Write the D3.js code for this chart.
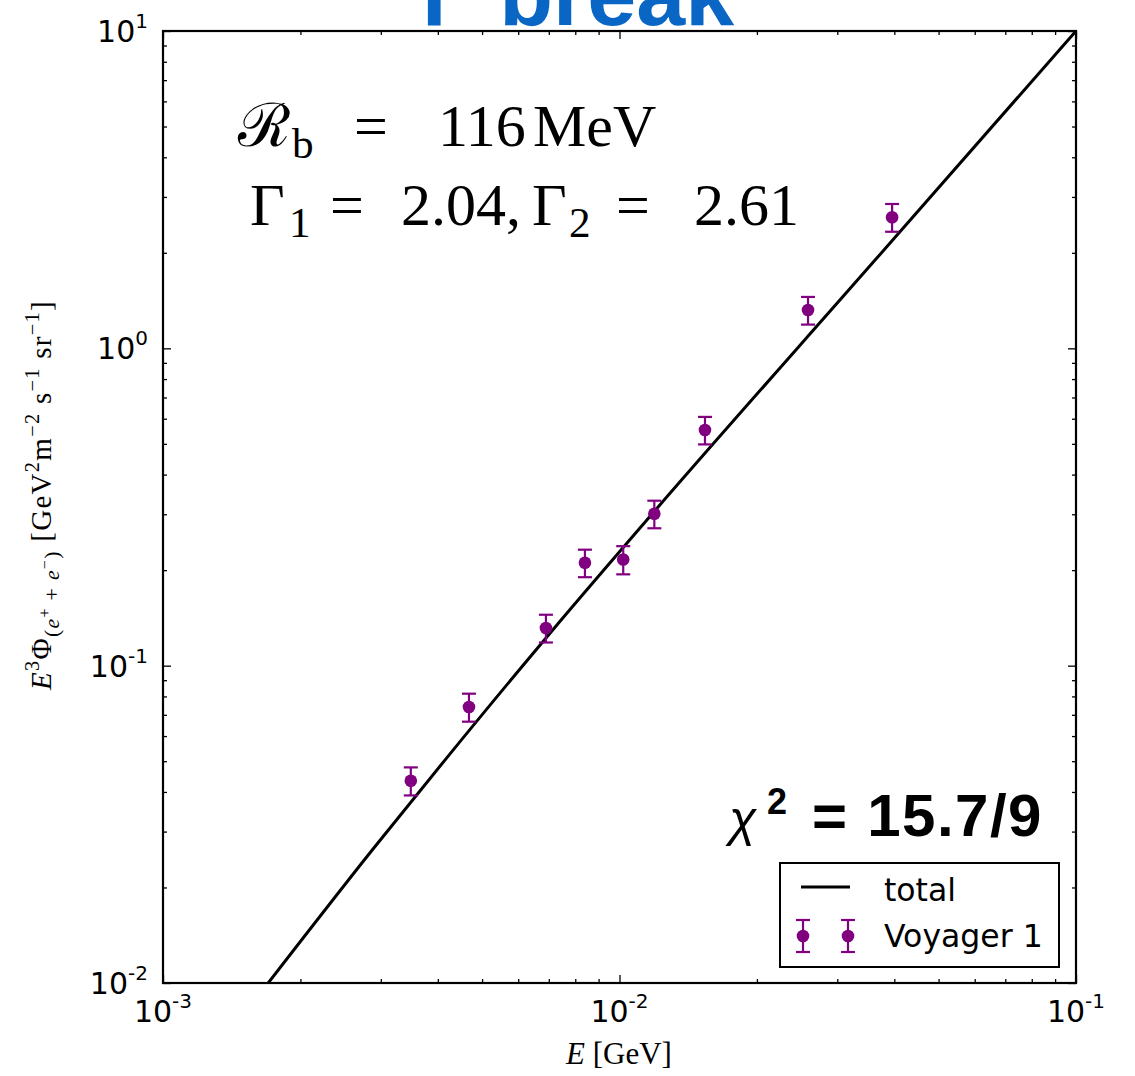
<!DOCTYPE html>
<html>
<head>
<meta charset="utf-8">
<script src="https://cdn.jsdelivr.net/npm/d3@7"></script>
<style>
  html, body { margin: 0; padding: 0; background: #fff; }
  svg { display: block; }
</style>
</head>
<body>
<svg id="chart" width="1135" height="1076"></svg>
<script>
// Voyager 1 electron+positron measurements (E in GeV, E^3 Phi in GeV^2 m^-2 s^-1 sr^-1)
const voyagerE    = [0.00349, 0.00468, 0.00690, 0.00840, 0.01019, 0.01192, 0.01539, 0.02588, 0.03955];
const voyagerFlux = [0.0434, 0.0741, 0.1315, 0.211, 0.216, 0.301, 0.553, 1.32, 2.59];
const voyagerErr  = [0.0044, 0.0075, 0.0132, 0.021, 0.022, 0.030, 0.055, 0.132, 0.26];

// Broken power-law fit ("total")
const modelE    = [0.00170, 0.00287, 0.00415, 0.00705, 0.01148, 0.0363, 0.100];
const modelFlux = [0.0100, 0.0262, 0.0505, 0.1268, 0.2877, 1.897, 10.0];

const xTickValues = [1e-3, 1e-2, 1e-1];
const xTickExps   = ["-3", "-2", "-1"];
const yTickValues = [1e-2, 1e-1, 1e0, 1e1];
const yTickExps   = ["-2", "-1", "0", "1"];

const svg = d3.select("#chart");
const M = { left: 163, right: 1076, top: 31, bottom: 983 };

const x = d3.scaleLog().domain([1e-3, 1e-1]).range([M.left, M.right]);
const y = d3.scaleLog().domain([1e-2, 1e1]).range([M.bottom, M.top]);

const tickFont = "'DejaVu Sans', sans-serif";
const serif = "'Liberation Serif', 'DejaVu Serif', serif";
const purple = "#800080";

// Title (partly above the canvas)
svg.append("text")
  .attr("x", 578).attr("y", 25)
  .attr("text-anchor", "middle")
  .attr("font-family", "'Liberation Sans', Arial, sans-serif")
  .attr("font-weight", "bold")
  .attr("font-size", 88)
  .attr("fill", "#0a66c4")
  .text("Γ break");

// Clip region for the plot contents
svg.append("clipPath").attr("id", "plotClip")
  .append("rect")
  .attr("x", M.left).attr("y", M.top)
  .attr("width", M.right - M.left).attr("height", M.bottom - M.top);

const plot = svg.append("g").attr("clip-path", "url(#plotClip)");

// Model line
const line = d3.line()
  .x((d, i) => x(modelE[i]))
  .y((d, i) => y(modelFlux[i]))
  .curve(d3.curveMonotoneX);

plot.append("path")
  .datum(modelE)
  .attr("d", line)
  .attr("fill", "none")
  .attr("stroke", "#000")
  .attr("stroke-width", 3);

// Error bars + markers
const pts = plot.append("g").selectAll("g")
  .data(voyagerE.map((e, i) => ({ e, f: voyagerFlux[i], err: voyagerErr[i] })))
  .join("g");

const capW = 7;
pts.append("line")
  .attr("x1", d => x(d.e)).attr("x2", d => x(d.e))
  .attr("y1", d => y(d.f + d.err)).attr("y2", d => y(d.f - d.err))
  .attr("stroke", purple).attr("stroke-width", 2.2);
pts.append("line")
  .attr("x1", d => x(d.e) - capW).attr("x2", d => x(d.e) + capW)
  .attr("y1", d => y(d.f + d.err)).attr("y2", d => y(d.f + d.err))
  .attr("stroke", purple).attr("stroke-width", 2.2);
pts.append("line")
  .attr("x1", d => x(d.e) - capW).attr("x2", d => x(d.e) + capW)
  .attr("y1", d => y(d.f - d.err)).attr("y2", d => y(d.f - d.err))
  .attr("stroke", purple).attr("stroke-width", 2.2);
pts.append("circle")
  .attr("cx", d => x(d.e)).attr("cy", d => y(d.f))
  .attr("r", 6.3).attr("fill", purple);

// Axes: inward ticks on all four sides
function minorTicks(domain) {
  const out = [];
  const lo = Math.round(Math.log10(domain[0])), hi = Math.round(Math.log10(domain[1]));
  for (let p = lo; p < hi; p++) for (let k = 2; k <= 9; k++) out.push(k * Math.pow(10, p));
  return out;
}
const xMinor = minorTicks(x.domain());
const yMinor = minorTicks(y.domain());

function styleAxis(g) {
  g.select(".domain").remove();
  g.selectAll(".tick line").attr("stroke", "#000").attr("stroke-width", 1.3);
  g.selectAll(".tick text").remove();
}

[[M.bottom, d3.axisTop], [M.top, d3.axisBottom]].forEach(([pos, ax]) => {
  svg.append("g").attr("transform", `translate(0,${pos})`)
    .call(ax(x).tickValues(xTickValues).tickSize(8)).call(styleAxis);
  svg.append("g").attr("transform", `translate(0,${pos})`)
    .call(ax(x).tickValues(xMinor).tickSize(4)).call(styleAxis);
});
[[M.left, d3.axisRight], [M.right, d3.axisLeft]].forEach(([pos, ax]) => {
  svg.append("g").attr("transform", `translate(${pos},0)`)
    .call(ax(y).tickValues(yTickValues).tickSize(8)).call(styleAxis);
  svg.append("g").attr("transform", `translate(${pos},0)`)
    .call(ax(y).tickValues(yMinor).tickSize(4)).call(styleAxis);
});

// Frame
svg.append("rect")
  .attr("x", M.left).attr("y", M.top)
  .attr("width", M.right - M.left).attr("height", M.bottom - M.top)
  .attr("fill", "none").attr("stroke", "#000").attr("stroke-width", 2.2);

// Tick labels as 10^n
function powLabel(g, exp) {
  g.append("tspan").text("10");
  g.append("tspan").attr("dy", -14).attr("font-size", 20).text(exp);
}
xTickValues.forEach((v, i) => {
  const t = svg.append("text")
    .attr("x", x(v)).attr("y", 1022)
    .attr("text-anchor", "middle")
    .attr("font-family", tickFont).attr("font-size", 30).attr("fill", "#000");
  powLabel(t, xTickExps[i]);
});
yTickValues.forEach((v, i) => {
  const t = svg.append("text")
    .attr("x", 148).attr("y", y(v) + 11)
    .attr("text-anchor", "end")
    .attr("font-family", tickFont).attr("font-size", 30).attr("fill", "#000");
  powLabel(t, yTickExps[i]);
});

// Rich text helper: segments [text, {italic, shift, size, x}]
function rich(sel, segs, baseSize) {
  let prevShift = 0;
  segs.forEach(([txt, o = {}]) => {
    const shift = o.shift || 0;
    const ts = sel.append("tspan").text(txt)
      .attr("font-size", o.size ? baseSize * o.size : baseSize)
      .attr("dy", shift - prevShift);
    if (o.italic) ts.attr("font-style", "italic");
    if (o.x !== undefined) ts.attr("x", o.x);
    prevShift = shift;
  });
}

// X axis label
const xl = svg.append("text")
  .attr("x", 619).attr("y", 1064)
  .attr("text-anchor", "middle")
  .attr("font-family", serif).attr("fill", "#000")
  .style("white-space", "pre");
rich(xl, [["E", { italic: true }], [" [GeV]"]], 31);

// Y axis label
const yl = svg.append("text")
  .attr("transform", "translate(51,495) rotate(-90)")
  .attr("text-anchor", "middle")
  .attr("font-family", serif).attr("fill", "#000")
  .attr("letter-spacing", 1.3)
  .style("white-space", "pre");
rich(yl, [
  ["E", { italic: true }], ["3", { shift: -12, size: 0.7 }], ["Φ"],
  ["(", { shift: 8, size: 0.75 }], ["e", { shift: 8, size: 0.75, italic: true }],
  ["+", { shift: -1, size: 0.55 }], [" + ", { shift: 8, size: 0.75 }],
  ["e", { shift: 8, size: 0.75, italic: true }], ["−", { shift: -1, size: 0.55 }],
  [")", { shift: 8, size: 0.75 }],
  [" [GeV"], ["2", { shift: -12, size: 0.7 }], ["m"], ["−2", { shift: -12, size: 0.7 }],
  [" s"], ["−1", { shift: -12, size: 0.7 }], [" sr"], ["−1", { shift: -12, size: 0.7 }], ["]"]
], 29);

// Fit parameter annotations
const a1 = svg.append("text")
  .attr("x", 240).attr("y", 146)
  .attr("font-family", serif).attr("fill", "#000");
rich(a1, [
  ["ℛ", { x: 238 }], ["b", { shift: 12, size: 0.72, x: 292 }],
  ["=", { shift: 0, x: 354 }], ["116", { x: 438 }], ["MeV", { x: 533 }]
], 60);

const a2 = svg.append("text")
  .attr("x", 250).attr("y", 225)
  .attr("font-family", serif).attr("fill", "#000");
rich(a2, [
  ["Γ", { x: 250 }], ["1", { shift: 12, size: 0.72, x: 289 }],
  ["=", { shift: 0, x: 330 }], ["2.04,", { x: 401 }],
  ["Γ", { x: 532 }], ["2", { shift: 12, size: 0.72, x: 569 }],
  ["=", { shift: 0, x: 616 }], ["2.61", { x: 694 }]
], 60);

// Chi-square
const chi = svg.append("text")
  .attr("y", 836)
  .attr("font-family", "'Liberation Sans', Arial, sans-serif")
  .attr("font-weight", "bold").attr("fill", "#000");
chi.append("tspan").attr("x", 729).attr("font-size", 50).attr("font-weight", "normal")
  .attr("font-style", "italic").text("χ");
chi.append("tspan").attr("x", 767).attr("dy", -22).attr("font-size", 36).text("2");
chi.append("tspan").attr("x", 812).attr("dy", 22).attr("font-size", 60).text("=");
chi.append("tspan").attr("x", 1043).attr("font-size", 60).attr("letter-spacing", 1.5)
  .attr("text-anchor", "end").text("15.7/9");

// Legend
const lg = svg.append("g");
lg.append("rect")
  .attr("x", 780).attr("y", 863).attr("width", 279).attr("height", 104)
  .attr("fill", "#fff").attr("stroke", "#000").attr("stroke-width", 2);
lg.append("line")
  .attr("x1", 801).attr("x2", 850).attr("y1", 887).attr("y2", 887)
  .attr("stroke", "#000").attr("stroke-width", 3);
lg.append("text").attr("x", 884).attr("y", 901)
  .attr("font-family", tickFont).attr("font-size", 31.5).text("total");
[803, 848].forEach(cx => {
  lg.append("line").attr("x1", cx).attr("x2", cx).attr("y1", 920).attr("y2", 952)
    .attr("stroke", purple).attr("stroke-width", 2.2);
  [920, 952].forEach(cy => lg.append("line")
    .attr("x1", cx - capW).attr("x2", cx + capW).attr("y1", cy).attr("y2", cy)
    .attr("stroke", purple).attr("stroke-width", 2.2));
  lg.append("circle").attr("cx", cx).attr("cy", 936).attr("r", 6.3).attr("fill", purple);
});
lg.append("text").attr("x", 884).attr("y", 947)
  .attr("font-family", tickFont).attr("font-size", 31.5).text("Voyager 1");
</script>
</body>
</html>
